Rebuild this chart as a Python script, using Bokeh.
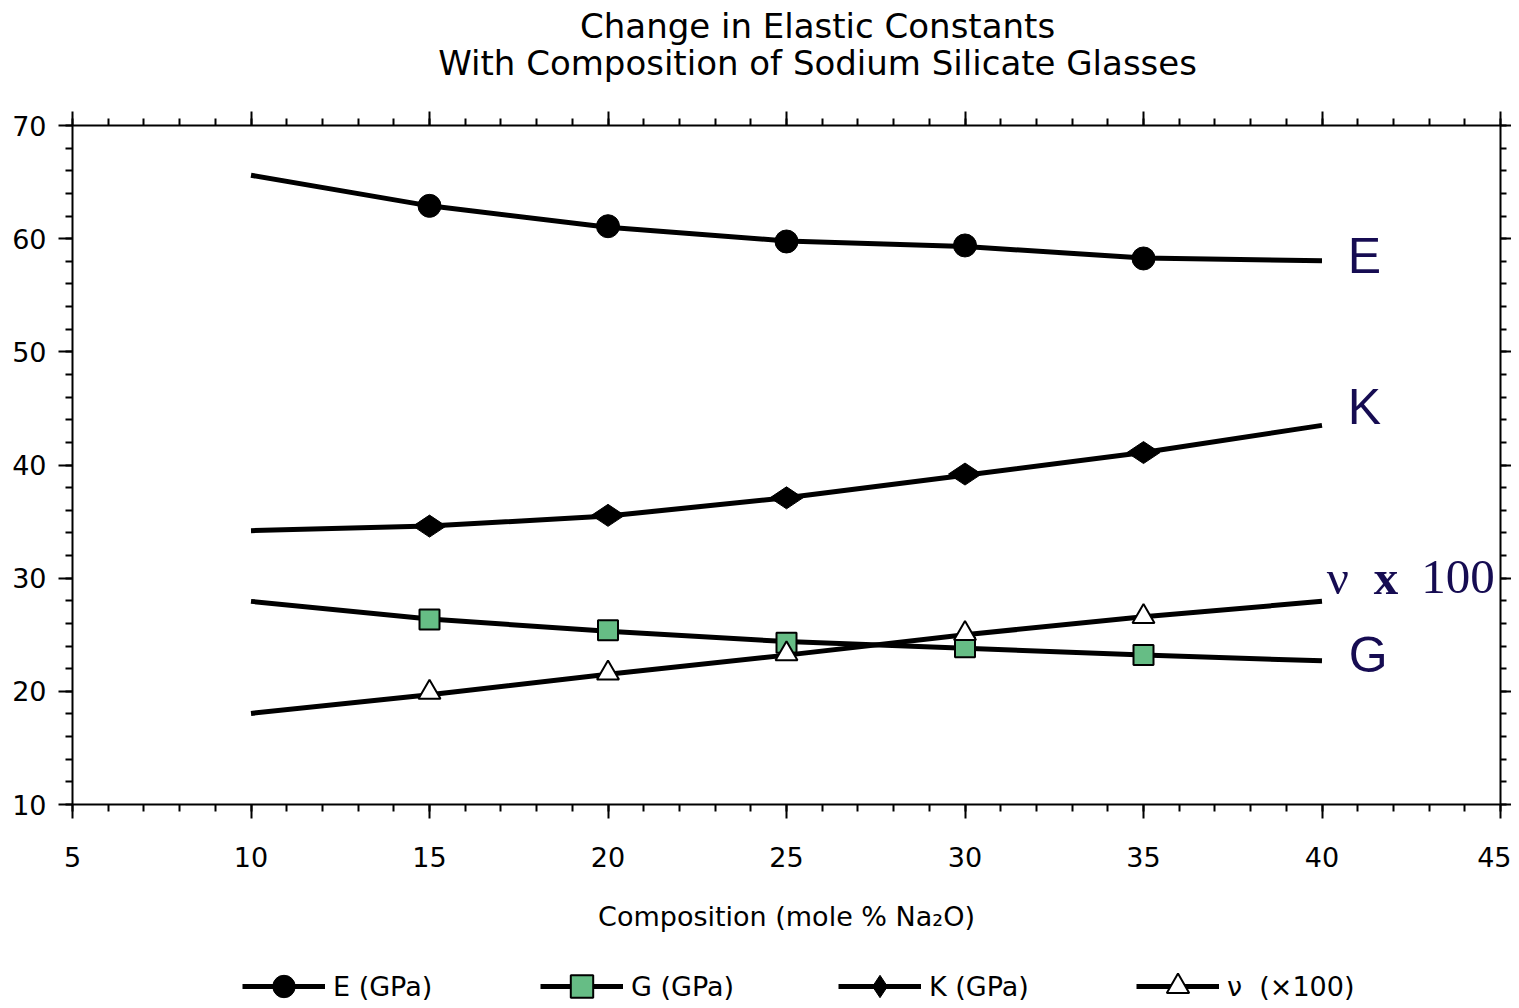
import numpy as np
from bokeh.plotting import figure
from bokeh.layouts import column
from bokeh.models import (Range1d, SingleIntervalTicker, LinearAxis, Label,
                          Legend, LegendItem, CustomJSTickFormatter)
from bokeh.embed import file_html
from bokeh.resources import INLINE

# ---- data ----
x_pts = [15, 20, 25, 30, 35]
x_fit = [10, 15, 20, 25, 30, 35, 40]

E_pts = [62.9, 61.1, 59.75, 59.4, 58.25]
E_fit = [65.6, 62.9, 61.0, 59.8, 59.3, 58.3, 58.05]

K_pts = [34.6, 35.55, 37.1, 39.2, 41.1]
K_fit = [34.2, 34.6, 35.5, 37.1, 39.1, 41.1, 43.5]

G_pts = [26.35, 25.4, 24.3, 23.9, 23.2]
G_fit = [27.95, 26.4, 25.3, 24.4, 23.8, 23.2, 22.7]

NU_pts = [19.9, 21.6, 23.3, 25.1, 26.6]
NU_fit = [18.05, 19.7, 21.5, 23.2, 25.0, 26.6, 27.95]

legend_labels = ["E (GPa)", "G (GPa)", "K (GPa)", "\u03bd  (\u00d7100)"]
title_lines = ["Change in Elastic Constants",
               "With Composition of Sodium Silicate Glasses"]
x_label = "Composition (mole % Na\u2082O)"

NAVY = "#160c52"
GREEN = "#66bd85"
FONT = "DejaVu Sans"
W = 1511
TITLE_H = 110
LEG_H = 36

# ---------------- title strip ----------------
pt = figure(width=W, height=TITLE_H, output_backend="svg", toolbar_location=None,
            x_range=Range1d(5, 45), y_range=Range1d(0, TITLE_H),
            x_axis_location=None, y_axis_location=None, min_border=0)
pt.outline_line_color = None
pt.grid.visible = False
for txt, yy in zip(title_lines, [TITLE_H - 25, TITLE_H - 62]):
    pt.add_layout(Label(x=25.87, y=yy, text=txt, text_font=FONT,
                        text_font_size="34px", text_color="black",
                        text_baseline="middle", text_align="center"))

# ---------------- main chart ----------------
p = figure(frame_width=1428, frame_height=679, output_backend="svg",
           toolbar_location=None,
           x_range=Range1d(5, 45), y_range=Range1d(10, 70),
           x_axis_location=None, y_axis_location=None,
           min_border_left=72, min_border_right=11, min_border_top=15,
           min_border_bottom=160)
p.outline_line_color = None
p.grid.visible = False
p.background_fill_color = "white"
p.border_fill_color = "white"

blank = CustomJSTickFormatter(code="return ''")


def style_axis(ax, tick_out, minor_out, labels=True):
    ax.axis_line_width = 2
    ax.axis_line_color = "black"
    ax.major_tick_line_width = 2
    ax.minor_tick_line_width = 2
    ax.major_tick_line_color = "black"
    ax.minor_tick_line_color = "black"
    ax.major_tick_in = 0
    ax.minor_tick_in = 0
    ax.major_tick_out = tick_out
    ax.minor_tick_out = minor_out
    ax.major_label_text_font = FONT
    ax.major_label_text_font_size = "27px"
    ax.major_label_text_color = "black"
    if not labels:
        ax.formatter = blank
        ax.major_label_standoff = 0


xb = LinearAxis(ticker=SingleIntervalTicker(interval=5, num_minor_ticks=5))
style_axis(xb, 14, 7)
xb.major_label_standoff = 28
xb.axis_label = x_label
xb.axis_label_text_font = FONT
xb.axis_label_text_font_size = "27px"
xb.axis_label_text_font_style = "normal"
xb.axis_label_text_color = "black"
xb.axis_label_standoff = 31
p.add_layout(xb, "below")

xt = LinearAxis(ticker=SingleIntervalTicker(interval=5, num_minor_ticks=5))
style_axis(xt, 14, 7, labels=False)
p.add_layout(xt, "above")

yl = LinearAxis(ticker=SingleIntervalTicker(interval=10, num_minor_ticks=5))
style_axis(yl, 14, 7)
yl.major_label_standoff = 12
p.add_layout(yl, "left")

yr = LinearAxis(ticker=SingleIntervalTicker(interval=10, num_minor_ticks=5))
style_axis(yr, 11, 6, labels=False)
p.add_layout(yr, "right")

LW = 5
series = [
    (E_fit, E_pts, dict(marker="circle", size=23, fill_color="black",
                        line_color="black")),
    (G_fit, G_pts, dict(marker="square", size=20, fill_color=GREEN,
                        line_color="black", line_width=2)),
    (K_fit, K_pts, dict(marker="diamond", size=33, angle=np.pi / 2,
                        fill_color="black", line_color="black")),
    (NU_fit, NU_pts, dict(marker="triangle", size=22, fill_color="white",
                          line_color="black", line_width=2)),
]
for fit, pts, mk in series:
    p.line(x_fit, fit, line_color="black", line_width=LW)
    p.scatter(x_pts, pts, **mk)

# series labels at right end
for txt, yy, xx in [("E", 58.5, 40.72), ("K", 45.1, 40.72), ("G", 23.2, 40.75)]:
    p.add_layout(Label(x=xx, y=yy, text=txt, text_font="Liberation Sans",
                       text_font_size="50px", text_color=NAVY,
                       text_baseline="middle", text_align="left"))
for txt, xx, style in [("\u03bd", 40.13, "normal"), ("x", 41.45, "bold"),
                       ("100", 42.78, "normal")]:
    p.add_layout(Label(x=xx, y=30.1, text=txt, text_font="Liberation Serif",
                       text_font_size="49px", text_font_style=style,
                       text_color=NAVY, text_baseline="middle",
                       text_align="left"))

# ---------------- legend strip ----------------
# same series, but with a y range that keeps the marks themselves out of view;
# only the legend samples are visible here
pl = figure(width=W, height=LEG_H, output_backend="svg", toolbar_location=None,
            x_range=Range1d(5, 45), y_range=Range1d(-200, -100),
            x_axis_location=None, y_axis_location=None, min_border=0)
pl.outline_line_color = None
pl.grid.visible = False
items = []
for (fit, pts, mk), lab in zip(series, legend_labels):
    lr = pl.line(x_fit, fit, line_color="black", line_width=LW)
    sr = pl.scatter(x_pts, pts, **mk)
    items.append(LegendItem(label=lab, renderers=[lr, sr]))

legend = Legend(items=items, orientation="horizontal", location=(170, -14))
legend.glyph_width = 83
legend.glyph_height = 56
legend.label_height = 26
legend.label_width = 150
legend.label_standoff = 8
legend.spacing = 57
legend.padding = 0
legend.margin = 0
legend.border_line_color = None
legend.background_fill_alpha = 0
legend.label_text_font = FONT
legend.label_text_font_size = "27px"
legend.label_text_color = "black"
pl.add_layout(legend, "center")

layout = column(pt, p, pl, spacing=0)
open("out.html", "w").write(file_html(layout, INLINE))
